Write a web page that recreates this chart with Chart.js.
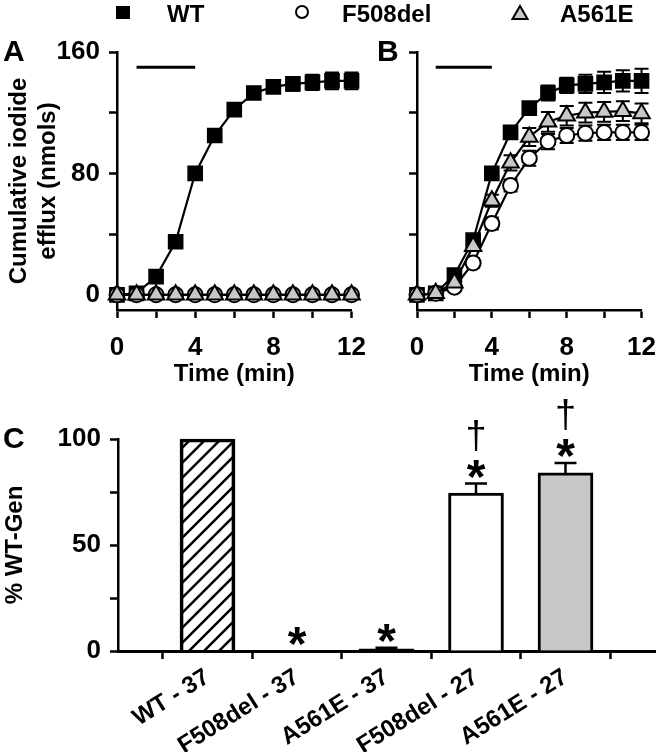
<!DOCTYPE html>
<html>
<head>
<meta charset="utf-8">
<script src="https://cdn.jsdelivr.net/npm/chart.js@4.4.1/dist/chart.umd.min.js"></script>
<style>
  body { margin: 0; background: #fff; }
  #wrap { position: relative; width: 670px; height: 752px; font-family: 'Liberation Sans', Arial, sans-serif; font-weight: bold; color: #000; }
  canvas { position: absolute; }
  .panel { position: absolute; font-size: 30px; line-height: 30px; }
  .leg { position: absolute; top: 2px; font-size: 24px; line-height: 24px; }
</style>
</head>
<body>
<div id="wrap">
  <canvas id="chartA" width="380" height="390" style="left:0;top:0"></canvas>
  <canvas id="chartB" width="290" height="390" style="left:380px;top:0"></canvas>
  <canvas id="chartC" width="670" height="362" style="left:0;top:390px"></canvas>

  <div style="position:absolute;left:116px;top:6px;width:14px;height:13px;background:#000"></div>
  <div class="leg" style="left:167px">WT</div>
  <div style="position:absolute;left:295px;top:5px;width:14px;height:14px;border:2px solid #000;border-radius:50%;box-sizing:border-box"></div>
  <div class="leg" style="left:342px">F508del</div>
  <svg style="position:absolute;left:511px;top:4px" width="18" height="17"><polygon points="9,2 16.5,15 1.5,15" fill="#c8c8c8" stroke="#000" stroke-width="2"/></svg>
  <div class="leg" style="left:560px">A561E</div>

  <div class="panel" style="left:3px;top:36px">A</div>
  <div class="panel" style="left:377px;top:36px">B</div>
  <div class="panel" style="left:3px;top:423px">C</div>
</div>
<script>
Chart.defaults.font.family = "'Liberation Sans', Arial, sans-serif";
Chart.defaults.color = "#000";

// time course, minutes
const times = [0, 1, 2, 3, 4, 5, 6, 7, 8, 9, 10, 11, 12];

// panel A (37 C)
const wtA = [0, 1, 12, 35, 80, 105, 122, 133, 137, 139, 140, 141, 141];
const wtAErr = [0.5, 1, 1.5, 2, 2.5, 3, 3, 3.5, 4, 4.5, 5, 5.5, 5.5];
const f508A = [0, 0, 0, 0, 0, 0, 0, 0, 0, 0, 0, 0, 0];
const f508AErr = [1, 1, 1, 1, 1, 1, 1, 1, 1, 1, 1, 1, 1];
const a561A = [0, 0, 0, 0, 0, 0, 0, 0, 0, 0, 0, 0, 0];
const a561AErr = [1, 1, 1, 1, 1, 1, 1, 1, 1, 1, 1, 1, 1];

// panel B (27 C)
const wtB = [0, 1, 13, 36, 80, 107, 123, 133, 138, 139, 140, 141, 141];
const wtBErr = [0.5, 1, 2, 3, 3, 4, 4, 5, 5, 6, 7, 7, 8];
const f508B = [0, 1, 5, 21, 47, 72, 90, 101, 105, 106.5, 107, 107, 107];
const f508BErr = [0.5, 1, 2, 3, 4, 4, 5, 5, 5, 5, 5, 5, 5];
const a561B = [0, 1, 8, 32, 62, 87, 104, 114, 118, 120, 120.5, 121, 119.5];
const a561BErr = [0.5, 1, 2, 3, 4, 5, 6, 6.5, 6.5, 6.5, 6.5, 6.5, 6.5];

// stimulation period bar
const stimTimes = [1, 4];
const stimLevel = [150, 150];

const yTicksAB = [0, 40, 80, 120, 160];
const yLabelsAB = [0, 80, 160];
const xTicksAB = [0, 2, 4, 6, 8, 10, 12];
const xLabelsAB = [0, 4, 8, 12];

// panel C
const barLabels = ["WT - 37", "F508del - 37", "A561E - 37", "F508del - 27", "A561E - 27"];
const barPos = [1, 2, 3, 4, 5];
const barValues = [100, 0, 1, 74.5, 84];
const barErr = [0, 0, 0.5, 4.5, 4.7];
const starMarks = ["", "*", "*", "*", "*"];
const daggerMarks = ["", "", "", "\u2020", "\u2020"];
const yTicksC = [0, 25, 50, 75, 100];
const yLabelsC = [0, 50, 100];

function pts(ys) {
  return times.map((t, i) => ({ x: t, y: ys[i] }));
}

function drawErrors(chart, upOnly) {
  const ctx = chart.ctx;
  const ys = chart.scales.y;
  chart.data.datasets.forEach((ds, i) => {
    if (!ds.errors || !!ds.errUpOnly !== upOnly) return;
    const meta = chart.getDatasetMeta(i);
    ctx.save();
    ctx.strokeStyle = "#000";
    ctx.lineWidth = ds.errLine || 2;
    meta.data.forEach((el, j) => {
      const err = ds.errors[j];
      if (!err) return;
      const v = ds.data[j].y;
      const top = ys.getPixelForValue(v + err);
      const bot = upOnly ? ys.getPixelForValue(v) : ys.getPixelForValue(v - err);
      const cap = ds.capHalf || 7;
      ctx.beginPath();
      ctx.moveTo(el.x, bot);
      ctx.lineTo(el.x, top);
      ctx.moveTo(el.x - cap, top);
      ctx.lineTo(el.x + cap, top);
      if (!upOnly) {
        ctx.moveTo(el.x - cap, bot);
        ctx.lineTo(el.x + cap, bot);
      }
      ctx.stroke();
    });
    ctx.restore();
  });
}

const errorBars = {
  id: "errorBars",
  beforeDatasetsDraw(chart) { drawErrors(chart, false); },
  afterDatasetsDraw(chart) { drawErrors(chart, true); }
};

const sigMarks = {
  id: "sigMarks",
  afterDatasetsDraw(chart) {
    const ctx = chart.ctx;
    const ys = chart.scales.y;
    const meta = chart.getDatasetMeta(0);
    ctx.save();
    ctx.fillStyle = "#000";
    ctx.textAlign = "center";
    ctx.textBaseline = "alphabetic";
    meta.data.forEach((el, i) => {
      const top = ys.getPixelForValue(barValues[i] + barErr[i]);
      if (starMarks[i]) {
        ctx.font = "bold 48px 'Liberation Sans', Arial, sans-serif";
        ctx.fillText(starMarks[i], el.x, top - 18 + 27);
      }
      if (daggerMarks[i]) {
        ctx.font = "38px 'Liberation Sans', Arial, sans-serif";
        ctx.fillText(daggerMarks[i], el.x, top - 48 + 12);
      }
    });
    ctx.restore();
  }
};

function lineSet(label, ys, errs, style, order) {
  return Object.assign({
    label: label,
    data: pts(ys),
    errors: errs,
    borderColor: "#000",
    borderWidth: 2.2,
    pointBorderColor: "#000",
    pointBorderWidth: 2,
    clip: false,
    order: order
  }, style);
}

const wtStyle = { pointStyle: "rect", pointRadius: 10, pointBackgroundColor: "#000", pointBorderWidth: 1.5 };
const f508Style = { pointStyle: "circle", pointRadius: 7.5, pointBackgroundColor: "#fff" };
const a561Style = { pointStyle: "triangle", pointRadius: 9.5, pointBackgroundColor: "#c8c8c8" };

function stimSet() {
  return {
    label: "stim",
    data: stimTimes.map((t, i) => ({ x: t, y: stimLevel[i] })),
    borderColor: "#000",
    borderWidth: 3,
    pointRadius: 0,
    clip: false,
    order: 5
  };
}

function timeOptions(yWidth, showY, padRight) {
  return {
    responsive: false,
    animation: false,
    layout: { padding: { left: 0, top: 52, right: padRight, bottom: 0 } },
    plugins: { legend: { display: false }, tooltip: { enabled: false } },
    scales: {
      x: {
        type: "linear", min: 0, max: 12,
        afterBuildTicks: s => { s.ticks = xTicksAB.map(v => ({ value: v })); },
        afterFit: s => { s.height = 80; },
        border: { color: "#000", width: 2.5 },
        grid: { drawOnChartArea: false, tickLength: 8, tickWidth: 2.5, tickColor: "#000" },
        ticks: {
          font: { size: 26, weight: "bold" }, padding: 14, maxRotation: 0, autoSkip: false,
          callback: v => xLabelsAB.includes(v) ? String(v) : ""
        },
        title: { display: true, text: "Time (min)", font: { size: 24, weight: "bold" }, padding: { top: 0, bottom: 1 } }
      },
      y: {
        type: "linear", min: -10, max: 160,
        afterBuildTicks: s => { s.ticks = yTicksAB.map(v => ({ value: v })); },
        afterFit: s => { s.width = yWidth; },
        border: { color: "#000", width: 2.5 },
        grid: { drawOnChartArea: false, tickLength: 8, tickWidth: 2.5, tickColor: "#000" },
        ticks: {
          font: { size: 26, weight: "bold" }, padding: 9,
          callback: v => (showY && yLabelsAB.includes(v)) ? String(v) : ""
        },
        title: {
          display: showY, text: ["Cumulative iodide", "efflux (nmols)"],
          font: { size: 24, weight: "bold" }, padding: { top: 5, bottom: 0 }
        }
      }
    }
  };
}

new Chart(document.getElementById("chartA"), {
  type: "line",
  data: {
    datasets: [
      stimSet(),
      lineSet("WT", wtA, wtAErr, wtStyle, 2),
      lineSet("F508del", f508A, f508AErr, f508Style, 1),
      lineSet("A561E", a561A, a561AErr, a561Style, 0)
    ]
  },
  options: timeOptions(117, true, 26),
  plugins: [errorBars]
});

new Chart(document.getElementById("chartB"), {
  type: "line",
  data: {
    datasets: [
      stimSet(),
      lineSet("WT", wtB, wtBErr, wtStyle, 2),
      lineSet("F508del", f508B, f508BErr, f508Style, 1),
      lineSet("A561E", a561B, a561BErr, a561Style, 0)
    ]
  },
  options: timeOptions(37, false, 15),
  plugins: [errorBars]
});

// diagonal hatch for the WT bar
const tile = document.createElement("canvas");
tile.width = 15;
tile.height = 15;
const tctx = tile.getContext("2d");
tctx.strokeStyle = "#000";
tctx.lineWidth = 2.5;
tctx.beginPath();
tctx.moveTo(-2, 17); tctx.lineTo(17, -2);
tctx.moveTo(-2, 2); tctx.lineTo(2, -2);
tctx.moveTo(13, 17); tctx.lineTo(17, 13);
tctx.stroke();
const hatch = tctx.createPattern(tile, "repeat");

new Chart(document.getElementById("chartC"), {
  type: "bar",
  data: {
    datasets: [{
      data: barPos.map((x, i) => ({ x: x, y: barValues[i] })),
      errors: barErr,
      errUpOnly: true,
      errLine: 2.5,
      capHalf: 11,
      backgroundColor: [hatch, "#fff", "#000", "#fff", "#c8c8c8"],
      borderColor: "#000",
      borderWidth: 3,
      borderSkipped: "start",
      barThickness: 55,
      clip: false
    }]
  },
  options: {
    responsive: false,
    animation: false,
    layout: { padding: { left: 0, top: 49, right: 15, bottom: 0 } },
    plugins: { legend: { display: false }, tooltip: { enabled: false } },
    scales: {
      x: {
        type: "linear", min: 0, max: 6, offset: false,
        afterBuildTicks: s => { s.ticks = barPos.map(v => ({ value: v })); },
        afterFit: s => { s.height = 101; },
        border: { color: "#000", width: 3 },
        grid: { drawOnChartArea: false, tickLength: 8, tickWidth: 2.5, tickColor: "#000" },
        ticks: {
          font: { size: 24, weight: "bold" }, padding: 4, minRotation: 32, maxRotation: 32, autoSkip: false,
          callback: v => barLabels[barPos.indexOf(v)] || ""
        }
      },
      y: {
        type: "linear", min: 0, max: 100,
        afterBuildTicks: s => { s.ticks = yTicksC.map(v => ({ value: v })); },
        afterFit: s => { s.width = 118; },
        border: { color: "#000", width: 2.5 },
        grid: { drawOnChartArea: false, tickLength: 8, tickWidth: 2.5, tickColor: "#000" },
        ticks: {
          font: { size: 26, weight: "bold" }, padding: 9,
          callback: v => yLabelsC.includes(v) ? String(v) : ""
        },
        title: { display: true, text: "% WT-Gen", font: { size: 24, weight: "bold" }, padding: { top: 1, bottom: 0 } }
      }
    }
  },
  plugins: [errorBars, sigMarks]
});
</script>
</body>
</html>
